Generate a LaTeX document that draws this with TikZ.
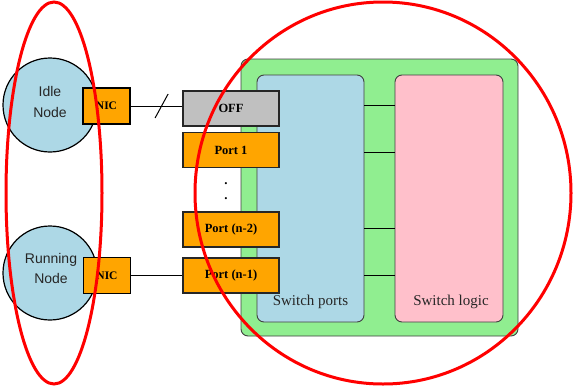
\documentclass[tikz,border=0pt]{standalone}
\usepackage{fontspec}
\setmainfont{Liberation Serif}
\newfontfamily\helv{Liberation Sans}
\begin{document}
\begin{tikzpicture}[x=1pt,y=-1pt,
  hostnode/.style={circle,draw=black,line width=1.2pt,fill=lightblue,minimum size=94pt,inner sep=0pt},
  hostlabel/.style={align=center,inner sep=0pt,font=\helv\fontsize{14}{20.5}\selectfont,text=black!85},
  nicbox/.style={rectangle,draw=black,line width=1.2pt,fill=portorange,minimum width=47pt,minimum height=36pt,inner sep=0pt,font=\bfseries\fontsize{11.5}{13}\selectfont},
  portbox/.style={rectangle,draw=black!85,line width=1.5pt,fill=portorange,minimum width=96pt,minimum height=35pt,inner sep=0pt,font=\bfseries\fontsize{12.5}{14}\selectfont},
  panel/.style={rectangle,rounded corners=7pt,draw=black!75,line width=0.9pt,inner sep=0pt},
  panellabel/.style={font=\fontsize{15}{17}\selectfont,text=black!85},
  ellipsisdot/.style={font=\bfseries\fontsize{13}{13}\selectfont,inner sep=0pt},
  link/.style={draw=black,line width=1pt},
  group/.style={draw=red,line width=3pt}
]
\definecolor{lightblue}{RGB}{173,216,230}
\definecolor{portorange}{RGB}{255,165,0}
\definecolor{panelgreen}{RGB}{144,238,144}
\definecolor{logicpink}{RGB}{255,192,203}
\definecolor{offgray}{RGB}{192,192,192}
\useasboundingbox (0,0) rectangle (575,386);

% switch chassis with its two internal blocks
\node[panel,fill=panelgreen,minimum width=277pt,minimum height=277pt] (switch) at (379.5,197.5) {};
\node[panel,fill=lightblue,minimum width=107pt,minimum height=247pt] (ports) at (310.5,198.5) {};
\node[panel,fill=logicpink,minimum width=108pt,minimum height=247pt] (logic) at (449,198.5) {};
\node[panellabel] (portslabel) at (310.5,302) {Switch ports};
\node[panellabel] (logiclabel) at (451,302) {Switch logic};

% internal links between port block and logic block
\foreach \yy in {105,152,228,275}
  \draw[link] (ports.east |- 0,\yy) -- (logic.west |- 0,\yy);

% individual ports
\node[portbox,fill=offgray] (off) at (231,108.5) {OFF};
\node[portbox] (p1) at (231,150) {Port 1};
\node[portbox] (pn2) at (231,229.5) {Port (n-2)};
\node[portbox] (pn1) at (231,275.5) {Port (n-1)};
\node[ellipsisdot,anchor=base] (dotup) at (226,184) {.};
\node[ellipsisdot,anchor=base] (dotdown) at (226,199) {.};

% compute nodes and their network cards
\node[hostnode] (idle) at (50,105) {};
\node[hostlabel] (idletext) at (50,102) {Idle\\Node};
\node[hostnode] (running) at (50,273) {};
\node[hostlabel] (runningtext) at (51,268.5) {Running\\Node};
\node[nicbox] (nic1) at (106.5,106) {NIC};
\node[nicbox] (nic2) at (107,275.5) {NIC};

% cables: the idle node's cable is cut
\draw[link] (nic1.east) -- (off.west |- nic1.east) coordinate[pos=0.6] (cut);
\draw[link] ([shift={(-6.5,12)}]cut) -- ([shift={(6.5,-12)}]cut);
\draw[link] (nic2.east) -- (pn1.west |- nic2.east);

% grouping outlines
\draw[group] (54,193) ellipse [x radius=48, y radius=191];
\draw[group] (383,193) ellipse [x radius=188, y radius=191];
\end{tikzpicture}
\end{document}
